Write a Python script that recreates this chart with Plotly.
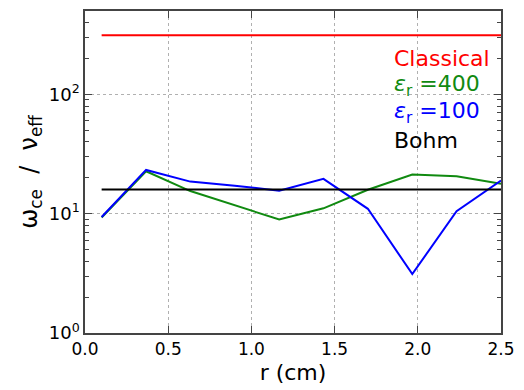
import plotly.graph_objects as go

r = [0.1, 0.367, 0.633, 0.9, 1.167, 1.433, 1.7, 1.967, 2.233, 2.5]
classical = [314] * len(r)
eps400 = [9.3, 22.7, 15.5, 11.8, 8.95, 11.1, 15.9, 21.3, 20.6, 17.8]
eps100 = [9.4, 23.3, 18.6, 17.2, 15.6, 19.6, 11.0, 3.12, 10.5, 19.0]
bohm = [16.0] * len(r)

legend_labels = ["Classical", "<i>ε</i><sub>r</sub> =400", "<i>ε</i><sub>r</sub> =100", "Bohm"]
colors = ["#ff0000", "#108a10", "#0000ff", "#000000"]
series = [classical, eps400, eps100, bohm]

font = "DejaVu Sans"
fig = go.Figure()
for ys, c in zip(series, colors):
    fig.add_trace(go.Scatter(x=r, y=ys, mode="lines", line=dict(color=c, width=2), showlegend=False))

label_y = [0.852, 0.768, 0.685, 0.597]
for txt, c, yy in zip(legend_labels, colors, label_y):
    fig.add_annotation(text=txt, xref="paper", yref="paper", x=0.739, y=yy,
                       xanchor="left", yanchor="middle", showarrow=False,
                       font=dict(family=font, size=22, color=c))

frame = "#444444"
fig.update_layout(
    width=524, height=390,
    margin=dict(l=85, r=17, t=9, b=57),
    plot_bgcolor="white", paper_bgcolor="white",
    font=dict(family=font, color="black"),
    xaxis=dict(range=[0, 2.5], tickvals=[0, 0.5, 1.0, 1.5, 2.0, 2.5],
               ticktext=["0.0", "0.5", "1.0", "1.5", "2.0", "2.5"],
               ticks="inside", ticklen=7, tickcolor=frame, mirror="ticks",
               showline=True, linecolor=frame, linewidth=1.5,
               showgrid=True, gridcolor="#b0b0b0", griddash="dot", gridwidth=1,
               zeroline=False, tickfont=dict(size=17),
               title=dict(text="r (cm)", font=dict(size=22), standoff=6)),
    yaxis=dict(type="log", range=[0, 2.7], tickvals=[1, 10, 100],
               ticktext=["10<sup>0</sup>", "10<sup>1</sup>", "10<sup>2</sup>"],
               ticks="inside", ticklen=7, tickcolor=frame, mirror="ticks",
               showline=True, linecolor=frame, linewidth=1.5,
               showgrid=True, gridcolor="#b0b0b0", griddash="dot", gridwidth=1,
               zeroline=False, tickfont=dict(size=18),
               minor=dict(ticks="inside", ticklen=4, tickcolor=frame,
                          tickvals=[2, 3, 4, 5, 6, 7, 8, 9, 20, 30, 40, 50, 60, 70, 80, 90, 200, 300, 400, 500],
                          showgrid=False),
               title=dict(text="ω<sub>ce</sub>  /  ν<sub>eff</sub>", font=dict(size=24), standoff=4)),
)
fig.write_html("out.html")
